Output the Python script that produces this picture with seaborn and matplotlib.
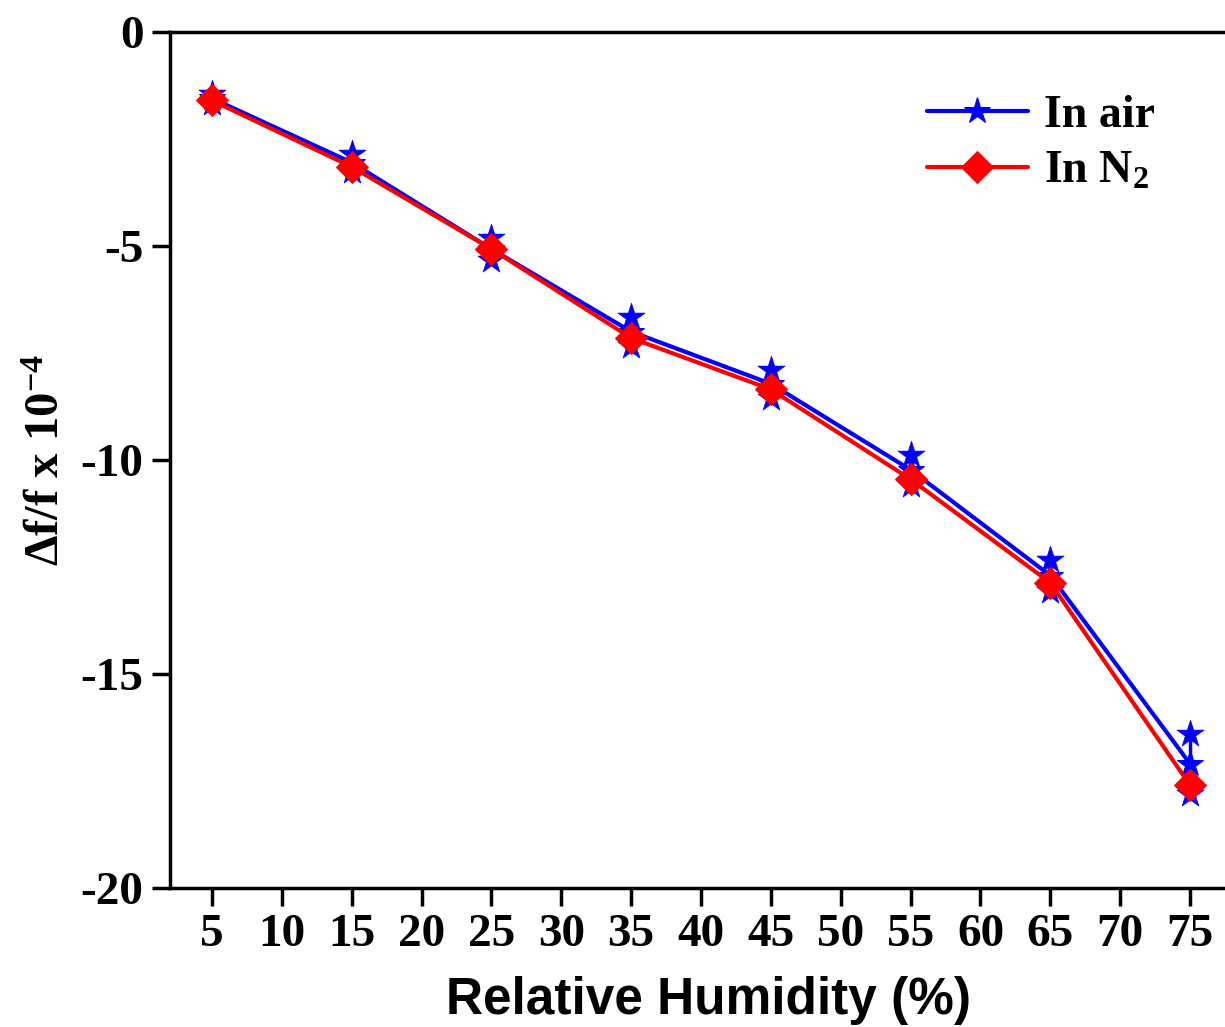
import numpy as np
import pandas as pd
import matplotlib
matplotlib.use('Agg')
import matplotlib.pyplot as plt
import seaborn as sns

# data
humidity = [5, 15, 25, 35, 45, 55, 65, 75]
air = [-1.55, -3.05, -5.07, -7.0, -8.22, -10.23, -12.7, -17.1]
air_err = [0.1, 0.2, 0.26, 0.33, 0.33, 0.35, 0.37, 0.7]
n2 = [-1.6, -3.15, -5.07, -7.15, -8.35, -10.45, -12.87, -17.6]
xticks = [5, 10, 15, 20, 25, 30, 35, 40, 45, 50, 55, 60, 65, 70, 75]
yticks = [0, -5, -10, -15, -20]

sns.set_style('ticks')
plt.rcParams['font.family'] = ['Liberation Serif', 'DejaVu Serif']
plt.rcParams['font.weight'] = 'bold'
plt.rcParams['text.color'] = 'black'
plt.rcParams['axes.labelcolor'] = 'black'
plt.rcParams['xtick.color'] = 'black'
plt.rcParams['ytick.color'] = 'black'
plt.rcParams['axes.unicode_minus'] = False
plt.rcParams['mathtext.fontset'] = 'custom'
plt.rcParams['mathtext.rm'] = 'Liberation Serif:bold'
plt.rcParams['mathtext.it'] = 'Liberation Serif:bold'
plt.rcParams['mathtext.bf'] = 'Liberation Serif:bold'
plt.rcParams['mathtext.default'] = 'rm'

df_air = pd.DataFrame({'rh': humidity, 'val': air, 'err': air_err})
df_n2 = pd.DataFrame({'rh': humidity, 'val': n2})

fig = plt.figure(figsize=(12.25, 10.27), dpi=100)
ax = fig.add_axes([170/1225, 1 - 888/1027, (1246 - 170)/1225, (888 - 32)/1027])

# air: error bars with star caps
ax.errorbar(df_air['rh'], df_air['val'], yerr=df_air['err'], fmt='none',
            ecolor='blue', elinewidth=2.5, capsize=0, zorder=2)
sns.scatterplot(x=np.r_[df_air['rh'], df_air['rh']],
                y=np.r_[df_air['val'] + df_air['err'], df_air['val'] - df_air['err']],
                marker='*', s=420, color='blue', edgecolor='blue', linewidth=0.5,
                ax=ax, zorder=3, legend=False)
sns.lineplot(data=df_air, x='rh', y='val', color='blue', linewidth=3,
             marker='*', markersize=20, markeredgecolor='blue',
             label='In air', ax=ax, zorder=4)
sns.lineplot(data=df_n2, x='rh', y='val', color='red', linewidth=3,
             marker='D', markersize=16, markeredgecolor='red',
             label='In N$_2$', ax=ax, zorder=5)

ax.set_xlim(2, 79)
ax.set_ylim(-20, 0)
ax.set_xticks(xticks)
ax.set_yticks(yticks)
ax.tick_params(axis='both', direction='out', length=13, width=2.5,
               labelsize=34, pad=6, color='black', labelcolor='black')
for lab in ax.get_xticklabels() + ax.get_yticklabels():
    lab.set_fontweight('bold')
for sp in ax.spines.values():
    sp.set_linewidth(2.5)
    sp.set_color('black')

ax.set_xlabel('Relative Humidity (%)', fontsize=37, fontweight='bold',
              family=['Liberation Sans', 'DejaVu Sans'], labelpad=14, color='black')
ax.set_ylabel(r'$\Delta$f/f x 10$^{-4}$', fontsize=35, fontweight='bold',
              labelpad=8, color='black')

leg = ax.legend(loc='upper left', bbox_to_anchor=(0.665, 0.975), frameon=False,
                fontsize=33, handlelength=2.2, handletextpad=0.35, labelspacing=0.3)
for t in leg.get_texts():
    t.set_fontweight('bold')

fig.savefig('out.png', dpi=100)
